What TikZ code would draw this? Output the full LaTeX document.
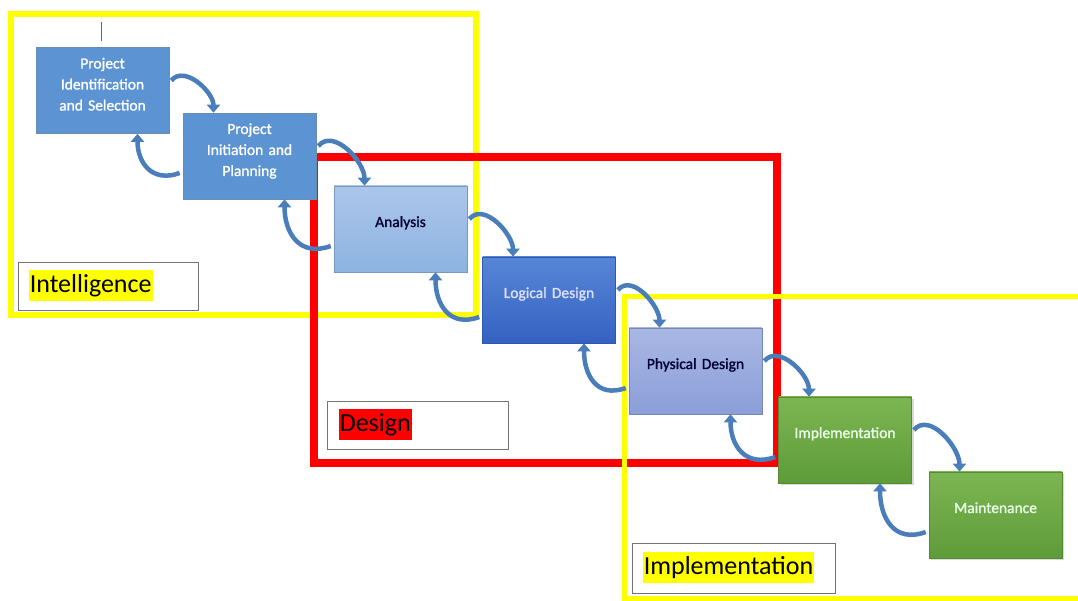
\documentclass[tikz,border=0pt]{standalone}
\usepackage{fontspec}
\setmainfont{Carlito}
\newfontfamily\stagefont{Carlito}[AutoFakeBold=1.2]
\usetikzlibrary{arrows.meta,shadows}

\definecolor{arrowblue}{HTML}{4A7EBB}
\definecolor{projblue}{HTML}{5B93D3}
\definecolor{projedge}{HTML}{41719C}
\definecolor{anatop}{HTML}{ABC6EA}
\definecolor{anabot}{HTML}{8DB3E2}
\definecolor{logtop}{HTML}{5686D6}
\definecolor{logbot}{HTML}{3562C2}
\definecolor{phytop}{HTML}{A9B7E3}
\definecolor{phybot}{HTML}{8A9ED8}
\definecolor{grntop}{HTML}{7CB652}
\definecolor{grnbot}{HTML}{5E9B39}
\definecolor{hiyellow}{HTML}{FFFF00}
\definecolor{hired}{HTML}{FF0000}

\begin{document}
\begin{tikzpicture}[x=1pt,y=1pt]
    \tikzstyle{stage}=[minimum width=133pt,minimum height=86pt,inner sep=2pt,align=center,text width=125pt,font=\stagefont\bfseries\fontsize{15.5}{21}\selectfont,text height=12pt,text depth=16pt,line width=0.6pt]
    \tikzstyle{tall}=[text depth=56pt]
    \tikzstyle{proj}=[fill=projblue,draw=projedge!80,text=white]
    \tikzstyle{ana}=[top color=anatop,bottom color=anabot,draw=anabot!85!black,text=black!80!blue]
    \tikzstyle{logi}=[top color=logtop,bottom color=logbot,draw=logbot!90!black,text=white!88!blue]
    \tikzstyle{phys}=[top color=phytop,bottom color=phybot,draw=phybot!85!black,text=black!80!blue]
    \tikzstyle{grn}=[top color=grntop,bottom color=grnbot,draw=grnbot!90!black,text=white!92!green,drop shadow={shadow xshift=2pt,shadow yshift=-2pt,opacity=0.3}]
    \tikzstyle{fwd} = [draw=arrowblue, line width=4.5pt, -{Triangle[width=13pt,length=8pt]}]
    \tikzstyle{phasebox}=[draw=black!55,line width=0.8pt,fill=white]
    \tikzstyle{phase}=[anchor=west,inner xsep=1pt,inner ysep=0pt,text height=22pt,text depth=9pt,font=\fontsize{26}{30}\selectfont]

    \useasboundingbox (0,0) rectangle (1078,601);

    % phase frames
    \draw [hiyellow, line width=6pt] (11,587) rectangle (476,286);
    \draw [hired, line width=8pt] (314,444) rectangle (777,138);
    \draw [hiyellow, line width=5pt] (1085,304) -- (624,304) -- (624,2) -- (1085,2);
    \draw [black!60, line width=0.8pt] (101,579) -- (101,560);

    % phase labels
    \node[phasebox, minimum width=180pt, minimum height=48pt] (intelbox) at (108,315) {};
    \node[phase, fill=hiyellow] (intel) at ([xshift=11pt,yshift=0pt]intelbox.west) {Intelligence};
    \node[phasebox, minimum width=181pt, minimum height=48pt] (desbox) at (417.5,176) {};
    \node[phase, fill=hired] (des) at ([xshift=12pt,yshift=0pt]desbox.west) {Design};
    \node[phasebox, minimum width=203pt, minimum height=50pt] (implbox) at (733.5,33) {};
    \node[phase, fill=hiyellow] (impl) at ([xshift=11pt,yshift=0pt]implbox.west) {Implementation};

    % stages
    \node[stage,proj,tall] (pis) at (102.5,510.5) {Project\\Identification\\and Selection};
    \node[stage,proj,tall] (pip) at (249.5,445) {Project\\Initiation and\\Planning};
    \node[stage,ana]  (ana) at (400.5,372) {Analysis};
    \node[stage,logi] (log) at (549,301) {Logical Design};
    \node[stage,phys] (phy) at (695.5,230) {Physical Design};
    \node[stage,grn]  (imp) at (845,161) {Implementation};
    \node[stage,grn]  (mnt) at (995.5,86) {Maintenance};

    % forward and back arrows
    \foreach \a/\b in {pis/pip,pip/ana,ana/log,log/phy,phy/imp,imp/mnt} {
        \draw [fwd] ([xshift=2pt,yshift=10pt]\a.east) to[out=50,in=90] ([xshift=-36pt]\b.north);
        \draw [fwd] ([xshift=-3pt,yshift=-17pt]\b.west) to[out=200,in=-90,looseness=1.3] ([xshift=35pt]\a.south);
    }

\end{tikzpicture}
\end{document}
